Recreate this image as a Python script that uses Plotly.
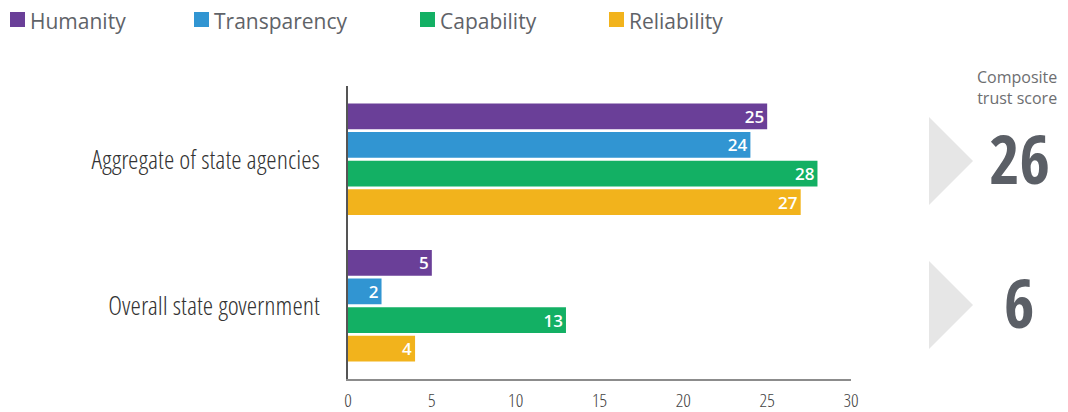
import plotly.graph_objects as go

categories = ["Aggregate of state agencies", "Overall state government"]
series_names = ["Humanity", "Transparency", "Capability", "Reliability"]
humanity = [25, 5]
transparency = [24, 2]
capability = [28, 13]
reliability = [27, 4]
composite = [26, 6]
x_ticks = [0, 5, 10, 15, 20, 25, 30]

colors = ["#6A3F98", "#3195D2", "#13B064", "#F2B31C"]
values = [humanity, transparency, capability, reliability]

W, H = 1068, 412
ML, MR, MT, MB = 348, 217, 86, 33
PW = W - ML - MR
PH = H - MT - MB

def px_x(p):
    return (p - ML) / PW

def px_y(p):
    return (H - MB - p) / PH

COND_BOLD = "Open Sans Condensed, Liberation Sans Narrow, Open Sans"
COND_LIGHT = "Open Sans Condensed Light, Liberation Sans Narrow, DejaVu Sans Condensed, Open Sans"

fig = go.Figure()
for name, vals, col in zip(series_names, values, colors):
    fig.add_trace(go.Bar(
        y=categories, x=vals, name=name, orientation="h",
        marker=dict(color=col, line=dict(width=0)),
        text=[str(v) for v in vals], textposition="inside", textangle=0,
        insidetextanchor="end", constraintext="none",
        textfont=dict(color="white", size=17, family="Open Sans", weight=600),
        showlegend=False, cliponaxis=False, hoverinfo="skip",
    ))

shapes = []
annotations = []

# legend (manual)
leg_sq_x = [10, 194, 420, 609]
for name, col, sx in zip(series_names, colors, leg_sq_x):
    shapes.append(dict(type="rect", xref="paper", yref="paper",
                       x0=px_x(sx), x1=px_x(sx + 15), y0=px_y(27), y1=px_y(12),
                       fillcolor=col, line=dict(width=0)))
    annotations.append(dict(xref="paper", yref="paper", x=px_x(sx + 18), y=px_y(21),
                            xanchor="left", yanchor="middle", showarrow=False,
                            text=name, font=dict(family="Open Sans", size=21, color="#5f6368")))

# composite trust score
annotations.append(dict(xref="paper", yref="paper", x=px_x(1017), y=px_y(87),
                        xanchor="center", yanchor="middle", showarrow=False,
                        text="Composite<br>trust score",
                        font=dict(family="Open Sans", size=16, color="#6d6e71")))
for i, (cat, val) in enumerate(zip(categories, composite)):
    annotations.append(dict(xref="paper", yref="y", x=px_x(1019), y=cat,
                            xanchor="center", yanchor="middle", showarrow=False,
                            yshift=1 if i == 0 else 4,
                            text="<b>%d</b>" % val,
                            font=dict(family=COND_BOLD, size=66, color="#5b5f66")))

# triangles
tri_centers = [161, 305]
for c in tri_centers:
    x0 = px_x(929); x1 = px_x(973)
    y0 = px_y(c - 44); y1 = px_y(c + 44); ym = px_y(c)
    shapes.append(dict(type="path", xref="paper", yref="paper",
                       path="M %f,%f L %f,%f L %f,%f Z" % (x0, y0, x1, ym, x0, y1),
                       fillcolor="#e6e6e6", line=dict(width=0), layer="below"))

fig.update_layout(
    width=W, height=H,
    margin=dict(l=ML, r=MR, t=MT, b=MB, pad=0, autoexpand=False),
    paper_bgcolor="white", plot_bgcolor="white",
    barmode="group", bargap=0.22, bargroupgap=0.1,
    shapes=shapes, annotations=annotations,
    showlegend=False,
    xaxis=dict(range=[0, 30], tickvals=x_ticks, ticktext=[str(t) for t in x_ticks],
               automargin=False,
               showgrid=False, zeroline=False, showline=True, linecolor="#8c8c8c",
               linewidth=1.5, ticks="", ticklabelstandoff=3,
               tickfont=dict(family=COND_LIGHT, size=19, color="#444444", weight=300)),
    yaxis=dict(autorange="reversed", automargin=False,
               showgrid=False, zeroline=False, showline=True,
               linecolor="#555555", linewidth=1.5, ticks="", ticklabelstandoff=21,
               tickfont=dict(family=COND_LIGHT, size=26.5, color="#333333", weight=300)),
)

fig.write_html("out.html", config={"displayModeBar": False},
               post_script="document.body.style.margin='0';document.body.style.padding='0';")
